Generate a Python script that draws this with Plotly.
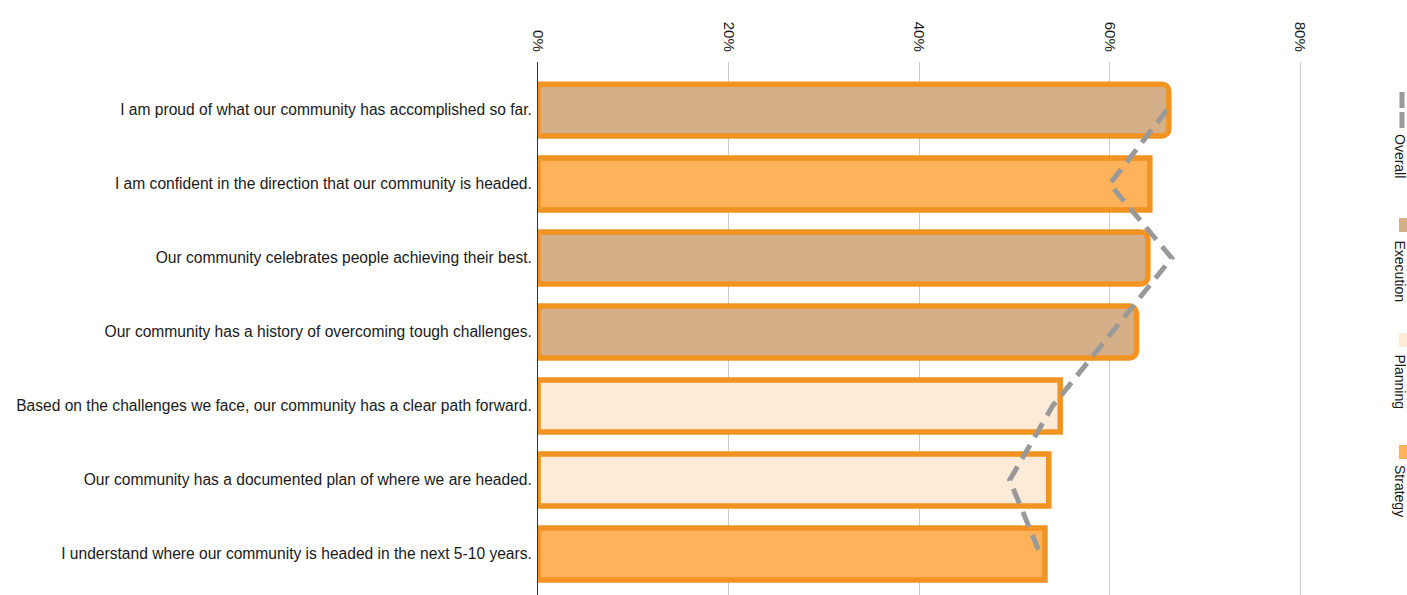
import plotly.graph_objects as go

statements = [
    "I am proud of what our community has accomplished so far.",
    "I am confident in the direction that our community is headed.",
    "Our community celebrates people achieving their best.",
    "Our community has a history of overcoming tough challenges.",
    "Based on the challenges we face, our community has a clear path forward.",
    "Our community has a documented plan of where we are headed.",
    "I understand where our community is headed in the next 5-10 years.",
]
groups = ["Execution", "Strategy", "Execution", "Execution", "Planning", "Planning", "Strategy"]
values = [0.662, 0.642, 0.640, 0.628, 0.548, 0.536, 0.532]
overall = [0.660, 0.600, 0.665, 0.602, 0.540, 0.495, 0.527]

legend_names = ["Overall", "Execution", "Planning", "Strategy"]
fills = {"Execution": "#D4AF88", "Planning": "#FDEBD8", "Strategy": "#FFB25A"}
border = "#F39322"

W, H = 1407, 595
ML, MR, MT, MB = 538, 59, 62, 0
pw, ph = W - ML - MR, H - MT - MB


def px(x):
    return (x - ML) / pw


def py(y):
    return (H - MB - y) / ph


fig = go.Figure()
for g in ["Execution", "Planning", "Strategy"]:
    xs = [v if gg == g else None for v, gg in zip(values, groups)]
    fig.add_trace(go.Bar(
        y=statements, x=xs, orientation="h", name=g, width=0.7,
        marker=dict(color=fills[g], line=dict(color=border, width=5.5),
                    cornerradius=7 if g == "Execution" else 0),
        showlegend=False, hoverinfo="skip",
    ))

fig.add_trace(go.Scatter(
    y=statements, x=overall, mode="lines", name="Overall",
    line=dict(color="#999999", width=5, dash="16px,9px"), showlegend=False, hoverinfo="skip",
))

font = "Liberation Sans, Arial, Helvetica, sans-serif"

# legend drawn at right, rotated
sw = {"Execution": (218, 232), "Planning": (333, 347), "Strategy": (445, 459)}
shapes = [dict(type="line", xref="paper", yref="paper", x0=px(1402), x1=px(1402),
               y0=py(92), y1=py(128), line=dict(color="#999999", width=5, dash="16px,4px"))]
for g, (a, b) in sw.items():
    shapes.append(dict(type="rect", xref="paper", yref="paper", x0=px(1399), x1=px(1407),
                       y0=py(a), y1=py(b), fillcolor=fills[g], line=dict(width=0)))

text_top = {"Overall": 132, "Execution": 238, "Planning": 352, "Strategy": 463}
annotations = []
for name in legend_names:
    annotations.append(dict(text=name, xref="paper", yref="paper", x=px(1390), y=py(text_top[name]),
                            xanchor="left", yanchor="top", textangle=90, showarrow=False,
                            font=dict(size=14, color="#1a1a1a", family=font)))

fig.update_layout(
    width=W, height=H,
    margin=dict(l=ML, r=MR, t=MT, b=MB, pad=0),
    plot_bgcolor="white", paper_bgcolor="white",
    barmode="overlay", bargap=0.3,
    font=dict(family=font, size=15.6, color="#1a1a1a"),
    shapes=shapes, annotations=annotations,
    xaxis=dict(side="top", range=[0, 0.85], tickformat=".0%", dtick=0.2, tick0=0,
               tickangle=90, showgrid=True, gridcolor="#cccccc", gridwidth=1,
               zeroline=False, showline=False, ticks="", ticklabelstandoff=7,
               tickfont=dict(size=15, color="#1a1a1a")),
    yaxis=dict(categoryorder="array", categoryarray=statements,
               range=[6.554, -0.649], showgrid=False, zeroline=False,
               showline=True, linecolor="#333333", linewidth=1, ticks="",
               ticklabelstandoff=2, tickfont=dict(size=15.6, color="#1a1a1a")),
)

fig.write_html("out.html", config={"displayModeBar": False},
               post_script="document.body.style.margin='0';")
